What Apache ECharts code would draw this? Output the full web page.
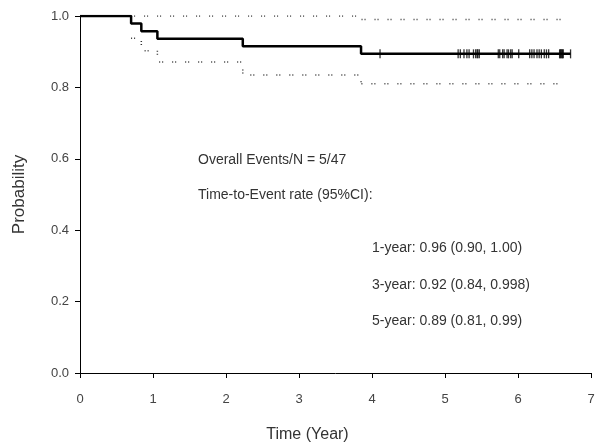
<!DOCTYPE html>
<html>
<head>
<meta charset="utf-8">
<script src="https://cdn.jsdelivr.net/npm/echarts@6/dist/echarts.min.js"></script>
<style>html,body{margin:0;padding:0;background:#fff;}#c{width:601px;height:448px;}</style>
</head>
<body>
<div id="c"></div>
<script>
// Kaplan-Meier step points: time (years) and survival probability
var kmTimes = [0, 0.70, 0.84, 1.06, 2.23, 3.85, 6.72];
var kmSurv  = [1.0, 0.979, 0.957, 0.936, 0.915, 0.894, 0.894];
// 95% CI bounds (start at first event)
var ciTimes = [0.70, 0.84, 1.06, 2.23, 3.85, 6.64];
var ciUpper = [1.0, 1.0, 1.0, 1.0, 0.99, 0.99];
var ciLower = [0.938, 0.903, 0.871, 0.835, 0.81, 0.81];
// censoring times
var censorTimes = [4.11, 5.18, 5.21, 5.26, 5.30, 5.33, 5.39, 5.42, 5.44, 5.45, 5.47,
  5.73, 5.75, 5.79, 5.81, 5.85, 5.87, 5.90, 5.92, 6.01, 6.16, 6.19, 6.22, 6.26, 6.29,
  6.32, 6.36, 6.39, 6.42, 6.57, 6.58, 6.59, 6.60, 6.61, 6.62, 6.72];
var censorSurv = 0.894;
var xTicks = [0, 1, 2, 3, 4, 5, 6, 7];
var yTicks = [0.0, 0.2, 0.4, 0.6, 0.8, 1.0];
var annotations = [
  {text: 'Overall Events/N = 5/47', left: 198, top: 161},
  {text: 'Time-to-Event rate (95%CI):', left: 198, top: 196},
  {text: '1-year: 0.96 (0.90, 1.00)', left: 372, top: 249},
  {text: '3-year: 0.92 (0.84, 0.998)', left: 372, top: 286},
  {text: '5-year: 0.89 (0.81, 0.99)', left: 372, top: 322}
];

function zip(a, b) { return a.map(function (v, i) { return [v, b[i]]; }); }

var chart = echarts.init(document.getElementById('c'), null, {renderer: 'canvas'});
var font = 'Liberation Sans, Arial, sans-serif';
var dotted = [1, 2, 1, 9];
chart.setOption({
  animation: false,
  backgroundColor: '#fff',
  grid: {left: 80, right: 10, top: 16, bottom: 73, containLabel: false},
  xAxis: {
    type: 'value', min: xTicks[0], max: xTicks[xTicks.length - 1], interval: 1,
    name: 'Time (Year)', nameLocation: 'middle', nameGap: 54,
    nameTextStyle: {fontFamily: font, fontSize: 16, color: '#333', padding: [0, 56, 0, 0]},
    axisLine: {show: true, lineStyle: {color: '#000', width: 1}},
    axisTick: {show: true, length: 5, lineStyle: {color: '#000'}},
    axisLabel: {fontFamily: font, fontSize: 13, color: '#444', margin: 20},
    splitLine: {show: false}
  },
  yAxis: {
    type: 'value', min: yTicks[0], max: yTicks[yTicks.length - 1], interval: 0.2,
    name: 'Probability', nameLocation: 'middle', nameGap: 52,
    nameTextStyle: {fontFamily: font, fontSize: 17, color: '#333'},
    axisLine: {show: true, lineStyle: {color: '#000', width: 1}},
    axisTick: {show: true, length: 5, lineStyle: {color: '#000'}},
    axisLabel: {fontFamily: font, fontSize: 13, color: '#444', margin: 11,
      formatter: function (v) { return v.toFixed(1); }},
    splitLine: {show: false}
  },
  graphic: annotations.map(function (a) {
    return {type: 'text', left: a.left, top: a.top - 8,
      style: {text: a.text, font: '14px ' + font, fill: '#333'}};
  }),
  series: [
    {type: 'line', step: 'end', data: zip(ciTimes, ciUpper), symbol: 'none',
      lineStyle: {color: '#333', width: 1.5, type: dotted}, z: 2},
    {type: 'line', step: 'end', data: zip(ciTimes, ciLower), symbol: 'none',
      lineStyle: {color: '#333', width: 1.5, type: dotted}, z: 2},
    {type: 'line', step: 'end', data: zip(kmTimes, kmSurv), symbol: 'none',
      lineStyle: {color: '#000', width: 2.5}, z: 3},
    {type: 'scatter', data: censorTimes.map(function (t) { return [t, censorSurv]; }),
      symbol: 'rect', symbolSize: [1.3, 9], itemStyle: {color: '#000'}, z: 4}
  ]
});
</script>
</body>
</html>
